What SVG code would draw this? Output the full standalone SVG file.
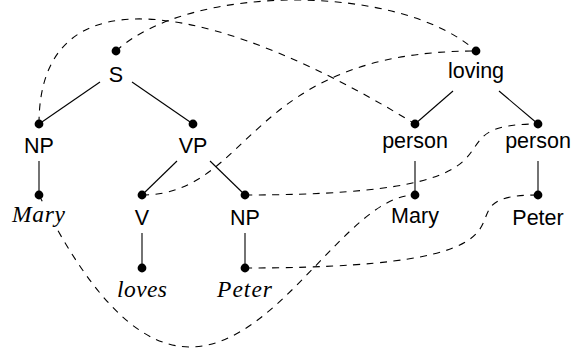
<svg xmlns="http://www.w3.org/2000/svg" width="571" height="351" viewBox="0 0 571 351">
<style>
.edge{stroke:#000;stroke-width:1.1;fill:none}
.link{stroke:#000;stroke-width:1.1;fill:none;stroke-dasharray:7 6.5}
.dot{fill:#000}
.sf{font-family:"Liberation Sans",Arial,sans-serif;font-size:21.5px;fill:#000;text-anchor:middle}
.it{font-family:"Liberation Serif","Times New Roman",serif;font-style:italic;font-size:23.5px;fill:#000}
</style>
<rect width="571" height="351" fill="#fff"/>
<g id="connectors">
  <line class="edge" x1="100" y1="82" x2="39" y2="124"/>
  <line class="edge" x1="132" y1="82" x2="193" y2="124"/>
  <line class="edge" x1="39" y1="161" x2="39" y2="195"/>
  <line class="edge" x1="177" y1="161" x2="142" y2="195"/>
  <line class="edge" x1="210" y1="161" x2="245" y2="195"/>
  <line class="edge" x1="142" y1="233" x2="142" y2="268"/>
  <line class="edge" x1="245" y1="233" x2="245" y2="268"/>
  <line class="edge" x1="453" y1="91" x2="415" y2="124"/>
  <line class="edge" x1="499" y1="91" x2="538" y2="124"/>
  <line class="edge" x1="415" y1="161" x2="415" y2="195"/>
  <line class="edge" x1="538" y1="161" x2="538" y2="195"/>
  <path class="link" d="M39,124 C39,-40 230,10 415,124"/>
  <path class="link" d="M116,51 C190,-17 400,-17 476,51"/>
  <path class="link" d="M142,195 C252,195 246,51 476,51"/>
  <path class="link" d="M245,195 C565,195 414,124 538,124"/>
  <path class="link" d="M39,195 C210,537 314,195 415,195"/>
  <path class="link" d="M245,268 C595,268 419,195 538,195"/>
</g>
<g id="S"><circle class="dot" cx="116" cy="51" r="4.4"/><text class="sf" x="116" y="82">S</text></g>
<g id="NP1"><circle class="dot" cx="39" cy="124" r="4.4"/><text class="sf" x="39" y="153">NP</text></g>
<g id="VP"><circle class="dot" cx="193" cy="124" r="4.4"/><text class="sf" x="193" y="153">VP</text></g>
<g id="Mary-word"><circle class="dot" cx="39" cy="195" r="4.4"/><rect x="10" y="204.5" width="58" height="22" fill="#fff"/><text class="it" x="12" y="222" textLength="53" lengthAdjust="spacing">Mary</text></g>
<g id="V"><circle class="dot" cx="142" cy="195" r="4.4"/><text class="sf" x="142" y="225">V</text></g>
<g id="NP2"><circle class="dot" cx="245" cy="195" r="4.4"/><text class="sf" x="245" y="225">NP</text></g>
<g id="loves"><circle class="dot" cx="142" cy="268" r="4.4"/><text class="it" x="117" y="296.5" textLength="50" lengthAdjust="spacing">loves</text></g>
<g id="Peter-word"><circle class="dot" cx="245" cy="268" r="4.4"/><text class="it" x="217" y="296.5" textLength="55" lengthAdjust="spacing">Peter</text></g>
<g id="loving"><circle class="dot" cx="476" cy="51" r="4.4"/><text class="sf" x="476" y="78">loving</text></g>
<g id="person1"><circle class="dot" cx="415" cy="124" r="4.4"/><text class="sf" x="415" y="147.5">person</text></g>
<g id="person2"><circle class="dot" cx="538" cy="124" r="4.4"/><text class="sf" x="538" y="147.5">person</text></g>
<g id="Mary-sem"><circle class="dot" cx="415" cy="195" r="4.4"/><text class="sf" x="415" y="222.5">Mary</text></g>
<g id="Peter-sem"><circle class="dot" cx="538" cy="195" r="4.4"/><text class="sf" x="538" y="225">Peter</text></g>
</svg>
